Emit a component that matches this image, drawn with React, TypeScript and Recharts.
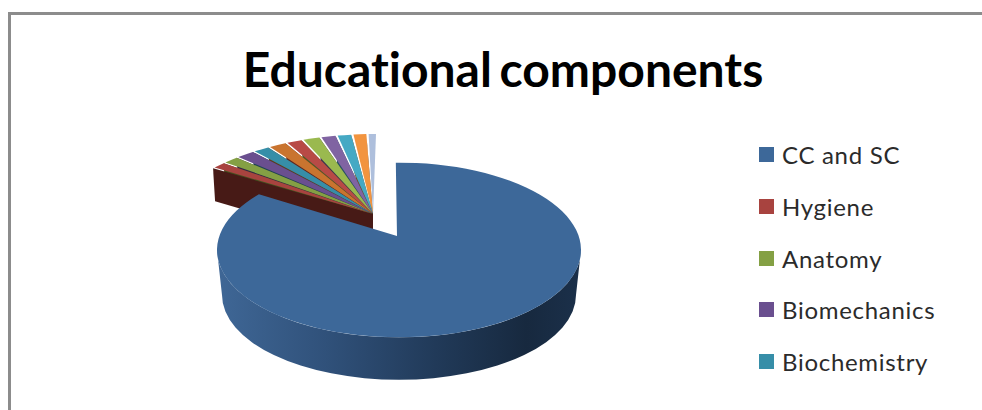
import React from 'react';
import { PieChart, Pie, Legend } from 'recharts';

const categories = [
    'CC and SC', 'Hygiene', 'Anatomy', 'Biomechanics', 'Biochemistry',
    'Category 6', 'Category 7', 'Category 8', 'Category 9', 'Category 10', 'Category 11', 'Category 12',
];
const shares = [86.7, 1.1, 1.25, 1.45, 1.3, 1.4, 1.25, 1.35, 1.2, 1.15, 1.1, 0.7];
const faceColors = [
    '#3d6899', '#a8433f', '#84a044', '#6a4f8f', '#368ea8', '#c9742f',
    '#b84a46', '#9ab94f', '#8064a2', '#45a9c4', '#f2943f', '#aebfdc',
];
const wallColors = [
    '#24405f', '#471a16', '#43521f', '#352748', '#1b4754', '#653a18',
    '#5c2523', '#4d5d28', '#403251', '#225562', '#794a20', '#57606e',
];
const visibleLegendItems = 5;

// painted right to left so the big slice ends up on top of the small fan
const tableData = categories
    .map((name, i) => ({ name, value: shares[i], fill: faceColors[i], wall: wallColors[i] }))
    .reverse();

const SQUASH = 0.48;
const rad = (deg: number) => (deg * Math.PI) / 180;

// eslint-disable-next-line @typescript-eslint/no-explicit-any
const Slice3D = (props: any) => {
    const { cx, cy, outerRadius, startAngle, endAngle, fill, name } = props;
    const wall = props.wall ?? props.payload?.wall;
    const isMain = name === categories[0];

    if (isMain) {
        const rx = outerRadius;
        const ry = outerRadius * SQUASH;
        const at = (deg: number) => ({ x: cx + rx * Math.cos(rad(deg)), y: cy - ry * Math.sin(rad(deg)) });
        const s = at(startAngle + 2.6);
        const e = at(endAngle + 1);
        const ax = cx - 2;
        const ay = cy - 14;
        // the lower rim is a bit narrower, the view has some perspective
        const bx = rx - 5;
        const by = ry - 2.5;
        const bcy = cy + 45;
        return (
            <g>
                <path
                    d={`M${cx - rx},${cy} A${rx},${ry} 0 0 0 ${cx + rx},${cy} L${cx + bx},${bcy} A${bx},${by} 0 0 1 ${cx - bx},${bcy} Z`}
                    fill="url(#mainWall)"
                />
                <path d={`M${ax},${ay} L${s.x},${s.y} A${rx},${ry} 0 1 0 ${e.x},${e.y} Z`} fill={fill} />
            </g>
        );
    }

    // small slices are pulled out of the pie, on a slightly wider rim
    const rx = outerRadius * 1.21;
    const ry = rx * 0.477;
    const ox = cx - 23;
    const oy = cy - 11;
    const at = (deg: number) => ({ x: ox + rx * Math.cos(rad(deg)), y: oy - ry * Math.sin(rad(deg)) });
    const gap = 0.6;
    const s = at(startAngle);
    const e = at(endAngle - gap);
    const w = at(endAngle);
    const ax = cx - 26;
    const ay = cy - 36;
    const d = 33;
    return (
        <g>
            <path d={`M${ax},${ay} L${w.x},${w.y} L${w.x + 2},${w.y + d} L${ax},${ay + d} Z`} fill={wall} />
            <path d={`M${ax},${ay} L${s.x},${s.y} A${rx},${ry} 0 0 0 ${e.x},${e.y} Z`} fill={fill} />
        </g>
    );
};

// eslint-disable-next-line @typescript-eslint/no-explicit-any
const renderLegend = (props: any) => {
    const items = [...props.payload].reverse().slice(0, visibleLegendItems);
    return (
        <div>
            {/* eslint-disable-next-line @typescript-eslint/no-explicit-any */}
            {items.map((item: any) => (
                <div key={item.value} style={{ display: 'flex', alignItems: 'center', height: 51.7 }}>
                    <span style={{ width: 15, height: 15, background: item.color, marginRight: 8 }} />
                    <span style={{ fontFamily: 'Lato', fontSize: 24, letterSpacing: 0.7, color: '#2b2b2b', fontVariantLigatures: 'none' }}>
                        {item.value}
                    </span>
                </div>
            ))}
        </div>
    );
};

export default function App() {
    return (
        <div style={{ position: 'absolute', left: 0, top: 0, width: 982, height: 410, overflow: 'hidden', background: '#fff' }}>
            <div
                style={{
                    position: 'absolute', left: 8, top: 12, width: 1000, height: 420,
                    border: '3px solid #8c8c8c', boxSizing: 'border-box',
                }}
            />
            <div
                style={{
                    position: 'absolute', left: 0, width: 1006, top: 36, textAlign: 'center',
                    fontFamily: 'Lato', fontWeight: 700, fontSize: 48, color: '#000', lineHeight: '66px',
                    fontVariantLigatures: 'none', wordSpacing: -4,
                }}
            >
                Educational components
            </div>
            <div style={{ position: 'absolute', left: 0, top: 0 }}>
                <PieChart width={982} height={410} margin={{ top: 0, right: 0, bottom: 0, left: 0 }}>
                    <defs>
                        <linearGradient id="mainWall" x1="0" y1="0" x2="1" y2="0">
                            <stop offset="0%" stopColor="#3f6796" />
                            <stop offset="30%" stopColor="#30517a" />
                            <stop offset="60%" stopColor="#213a59" />
                            <stop offset="85%" stopColor="#17293f" />
                            <stop offset="100%" stopColor="#1b304a" />
                        </linearGradient>
                    </defs>
                    <Pie
                        data={tableData}
                        dataKey="value"
                        nameKey="name"
                        cx={399}
                        cy={250}
                        outerRadius={182}
                        startAngle={90}
                        endAngle={450}
                        stroke="none"
                        shape={Slice3D}
                        isAnimationActive={false}
                    />
                    <Legend
                        content={renderLegend}
                        itemSorter={null}
                        wrapperStyle={{ position: 'absolute', left: 759, top: 129, width: 215, height: 260 }}
                    />
                </PieChart>
            </div>
        </div>
    );
}
